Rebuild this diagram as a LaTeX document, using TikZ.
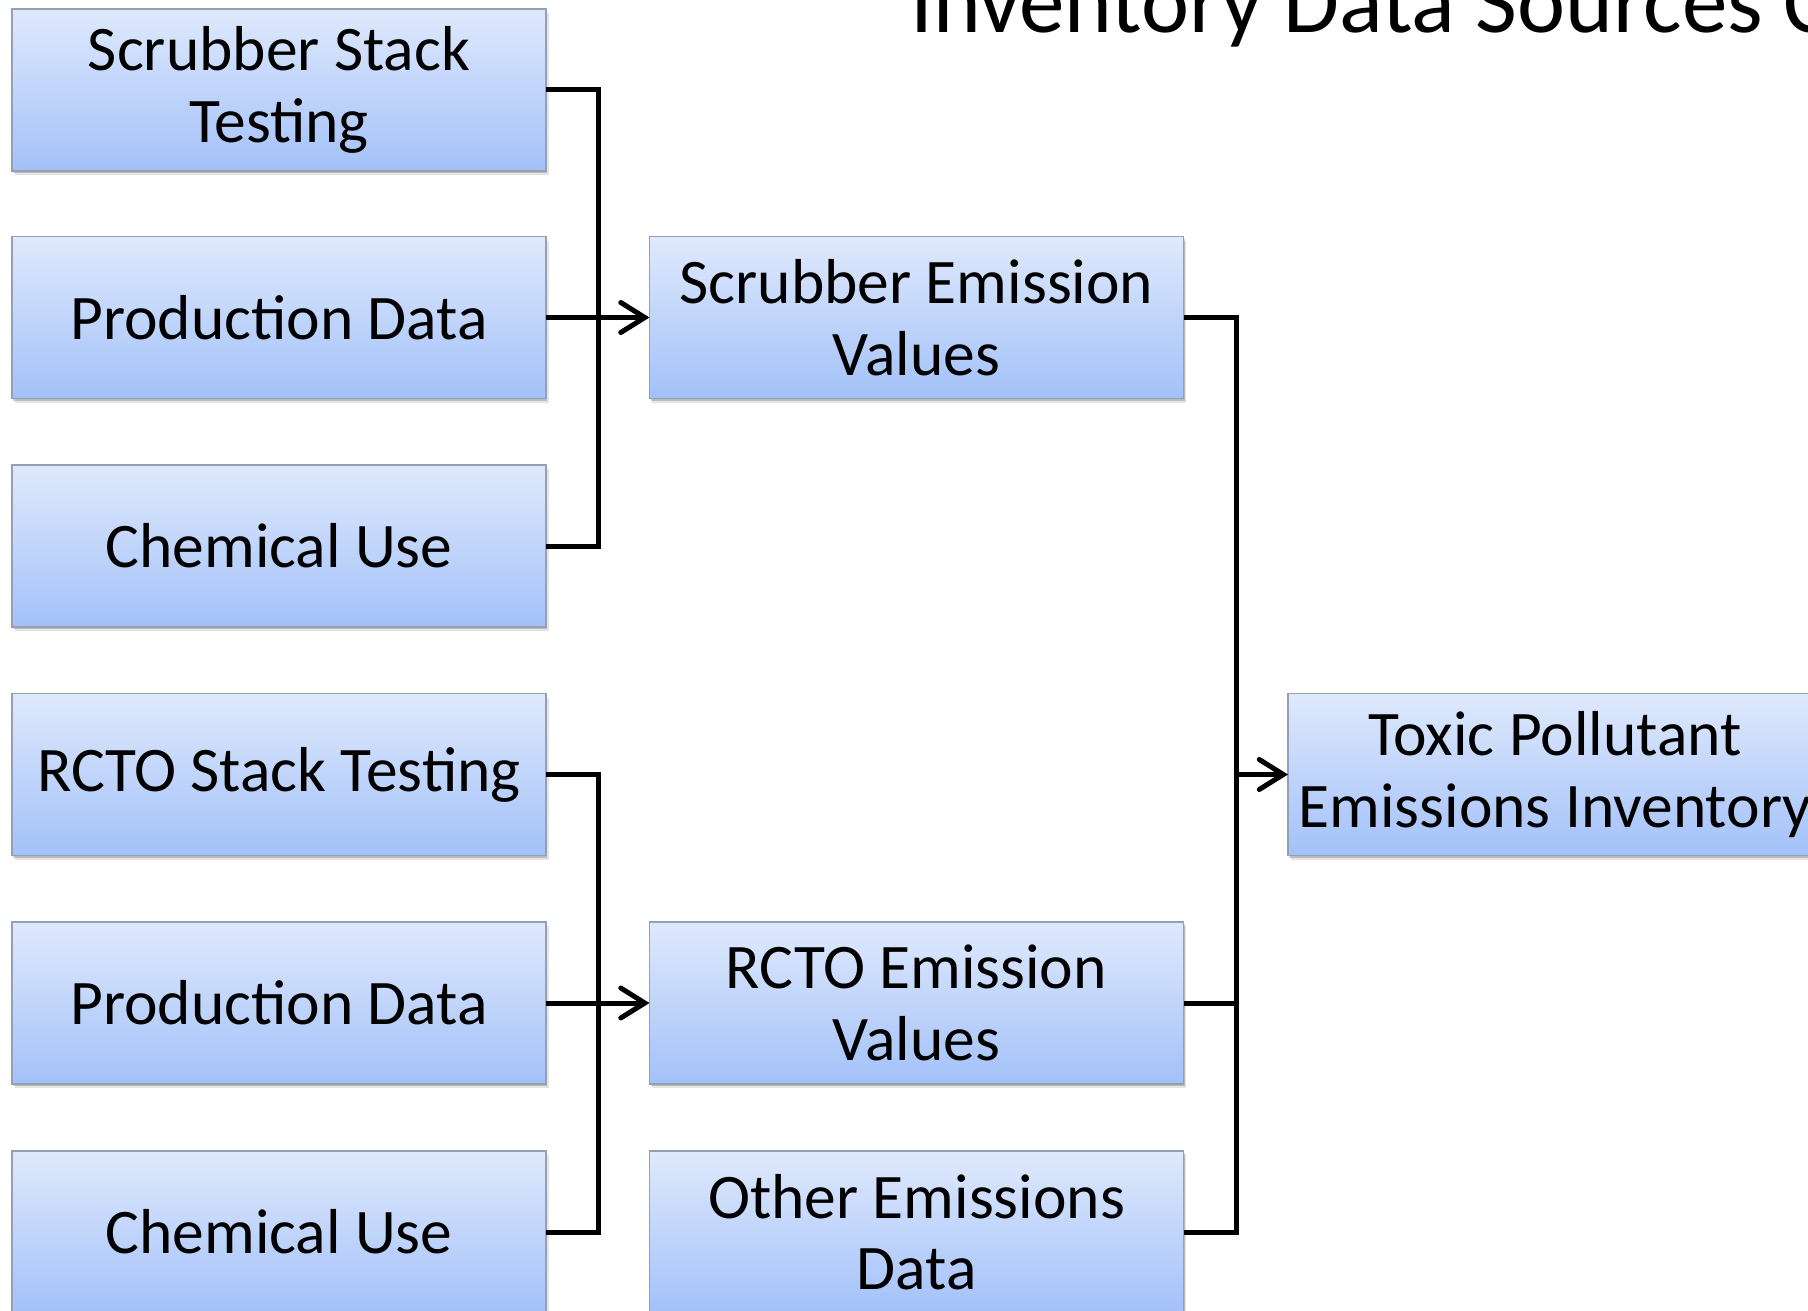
\documentclass[tikz,border=0pt]{standalone}
\usepackage{fontspec}
\setmainfont{Carlito}
\usetikzlibrary{arrows.meta}
\definecolor{boxtop}{RGB}{223,233,252}
\definecolor{boxbot}{RGB}{163,193,249}
\definecolor{boxline}{RGB}{150,160,180}
\begin{document}
\begin{tikzpicture}[x=1pt,y=-1pt,
  srcbox/.style={draw=boxline, line width=1.5pt,
    top color=boxtop, bottom color=boxbot,
    preaction={fill=black, opacity=.10, transform canvas={shift={(2.5pt,-4pt)}}},
    preaction={fill=black, opacity=.18, transform canvas={shift={(1pt,-2pt)}}},
    minimum width=534pt, minimum height=162pt, inner sep=0pt, outer sep=0pt,
    align=center, font=\fontsize{63.5}{71.5}\selectfont},
  wire/.style={line width=5pt, black},
  feed/.style={wire, -{Straight Barb[length=24pt,width=30pt,line cap=round]}}]
\useasboundingbox (0,0) rectangle (1808,1311);
\clip (0,0) rectangle (1808,1311);
\fill[white] (0,0) rectangle (1808,1311);

% heading, running past the right edge
\node[anchor=base west, inner sep=0pt, font=\fontsize{91}{100}\selectfont]
  (title) at (910,33) {Inventory Data Sources C};

% scrubber inputs
\node[srcbox] (s1) at (279,90)    {Scrubber Stack\\Testing};
\node[srcbox] (s2) at (279,317.5) {Production Data};
\node[srcbox] (s3) at (279,546)   {Chemical Use};
% RCTO inputs
\node[srcbox] (r1) at (279,774.5) {RCTO Stack Testing};
\node[srcbox] (r2) at (279,1003)  {Production Data};
\node[srcbox] (r3) at (279,1232)  {Chemical Use};
% intermediate results
\node[srcbox] (sv) at (916.5,317.5) {Scrubber Emission\\Values};
\node[srcbox] (rv) at (916.5,1003)  {RCTO Emission\\Values};
\node[srcbox] (ov) at (916.5,1232)  {Other Emissions\\Data};
% final inventory
\node[srcbox] (tx) at (1555,774.5)  {Toxic Pollutant\\Emissions Inventory};

% bus junctions
\coordinate (busS) at (598,317.5);
\coordinate (busR) at (598,1003);
\coordinate (busT) at (1236,774.5);

% scrubber group
\draw[wire] (s1.east) -| (busS) |- (s3.east);
\draw[feed] (s2.east) -- (sv.west);
% RCTO group
\draw[wire] (r1.east) -| (busR) |- (r3.east);
\draw[feed] (r2.east) -- (rv.west);
% into the inventory
\draw[wire] (sv.east) -| (busT) |- (ov.east);
\draw[wire] (rv.east) -- (rv.east -| busT);
\draw[feed] (busT) -- (tx.west);
\end{tikzpicture}
\end{document}
